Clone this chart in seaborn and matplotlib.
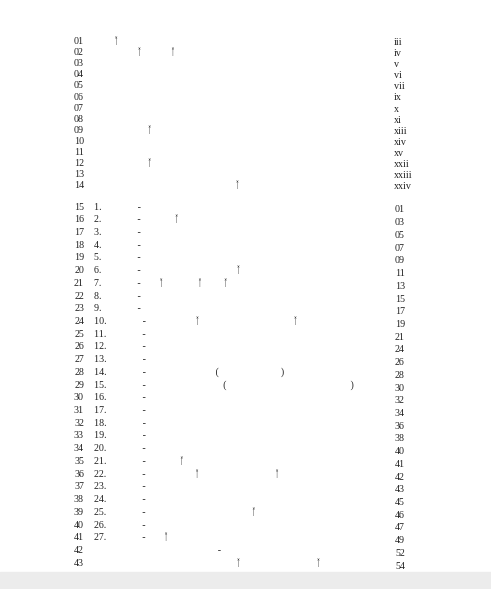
import matplotlib
matplotlib.use("Agg")
import matplotlib.pyplot as plt
import seaborn as sns
import numpy as np

sns.set_theme(style="white")
plt.rcParams['font.family'] = ['Liberation Serif', 'Noto Sans', 'DejaVu Sans']

title = "පටුන"
page_header = "පිටු අංකය"
unit_word = "ඒකකය"

front_nums = [f"{i:02d}" for i in range(1, 15)]
front_titles = [
    "අධ්‍යක්ෂ ජනරාල්තුමාගේ පණිවිඩය",
    "නියෝජ්‍ය අධ්‍යක්ෂ ජනරාල්තුමාගේ පණිවිඩය",
    "විෂයමාලා කමිටුව",
    "ගුරු මාර්ගෝපදේශය පරිශීලනය සඳහා උපදෙස්",
    "පටුන",
    "විෂය හැඳින්වීම",
    "ජාතික අරමුණු",
    "මූලික නිපුණතා",
    "විෂය අධ්‍යයනයේ අරමුණු",
    "විෂය නිර්දේශය පාසල් වාර වශයෙන් බෙදාගැනීමට යෝජිත සැලැස්ම",
    "විෂය නිර්දේශය",
    "පාසල් ප්‍රතිපත්ති හා වැඩසටහන් සංවිධානය",
    "තක්සේරුව හා ඇගයීම",
    "ඉගෙනුම් ඉගැන්වීම් ක්‍රමවේදය",
]
front_pages = ["iii", "iv", "v", "vi", "vii", "ix", "x", "xi", "xiii", "xiv",
               "xv", "xxii", "xxiii", "xxiv"]

unit_titles = [
    "සුවිශේෂී නාම වරනැඟීම", "සංඛ්‍යා නාම වරනැඟීම", "සර්වනාම වරනැඟීම",
    "තද්ධිත පද සාධනය", "කිතක පද සාධනය", "ධාතු ගණ හා ආඛ්‍යාත වරනැඟීම",
    "ප්‍රයෝජ්‍ය ක්‍රියා භාවිතය", "අතිරේක පද භාවිතය", "රචනා ලිවීම",
    "සාම්ප්‍රදායික භාෂා ප්‍රයෝග භාවිතය", "සාමීචි කථා", "සමිති කථා",
    "උච්චාරණය හා ස්මරණය", "මහාවග්ගය (මහාඛන්ධක)", "අපදානපාළි (වක්කලිත්ථෙරාපදාන)",
    "මහාවංසය", "අනිර්දිෂ්ට පරිවර්තන", "අර්ථාවබෝධය", "හරධර්ම විචාරණය",
    "රසවින්දනය හැඳින්වීම", "කාව්‍යෝක්ති", "සාහිත්‍යාත්මක වාක්‍ය රචනය",
    "බෞද්ධ සංස්කෘතිය", "වංසකථා", "බුද්ධචරිත කාව්‍යය", "ධර්මාර්ථ විවරණය",
    "ව්‍යාකරණ විවරණය",
]
unit_pages = ["01", "03", "05", "07", "09", "11", "13", "15", "17", "19", "21",
              "24", "26", "28", "30", "32", "34", "36", "38", "40", "41", "42",
              "43", "45", "46", "47", "49"]
tail_titles = ["තක්සේරුව හා ඇගයීම - හැඳින්වීම",
               "ඉගෙනුම් ඉගැන්වීම් ක්‍රියාවලිය ප්‍රවර්ධනය කිරීමේ නිදර්ශක ආධාරකය"]
tail_pages = ["52", "54"]

fig = plt.figure(figsize=(4.91, 5.89), dpi=100)
ax = fig.add_axes([0, 0, 1, 1])
ax.set_xlim(0, 491)
ax.set_ylim(589, 0)
ax.axis("off")
ax.axhspan(572, 589, color="#ececec", zorder=0)

fs = 7.2
col = "#222222"
ax.text(245, 12, title, ha="center", va="center", fontsize=11, color=col)
ax.text(393, 24, page_header, ha="left", va="center", fontsize=6.5, color=col)

y0, step = 41.5, 11.1
for i, (n, t, p) in enumerate(zip(front_nums, front_titles, front_pages)):
    y = y0 + i * step
    ax.text(84, y, n, ha="right", va="center", fontsize=fs, color=col)
    ax.text(93, y, t, ha="left", va="center", fontsize=fs, color=col)
    ax.text(394, y + 1, p, ha="left", va="center", fontsize=fs, color=col)

y1, step2 = 207, 12.72
for j, (t, p) in enumerate(zip(unit_titles, unit_pages)):
    y = y1 + j * step2
    ax.text(84, y, str(15 + j), ha="right", va="center", fontsize=fs, color=col)
    ax.text(94, y, f"{j + 1}. {unit_word} -  {t}", ha="left", va="center",
            fontsize=fs, color=col)
    ax.text(395, y + 3, p, ha="left", va="center", fontsize=fs, color=col)
for k, (t, p) in enumerate(zip(tail_titles, tail_pages)):
    y = y1 + (len(unit_titles) + k) * step2
    ax.text(84, y, str(15 + len(unit_titles) + k), ha="right", va="center",
            fontsize=fs, color=col)
    ax.text(94, y, t, ha="left", va="center", fontsize=fs, color=col)
    ax.text(395, y + 3, p, ha="left", va="center", fontsize=fs, color=col)

fig.savefig("out.png", dpi=100)
